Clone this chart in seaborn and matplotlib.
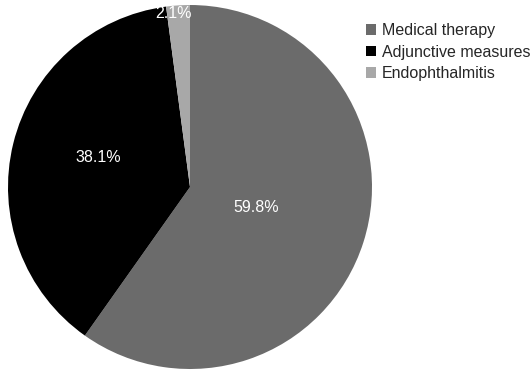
import matplotlib
matplotlib.use("Agg")
import matplotlib.pyplot as plt
import seaborn as sns
import numpy as np

categories = ["Medical therapy", "Adjunctive measures", "Endophthalmitis"]
values = [59.8, 38.1, 2.1]
colors = ["#6b6b6b", "#000000", "#a8a8a8"]
label_dist = [0.38, 0.53, 0.96]
label_angle_shift = [0.0, -4.0, 1.5]

sns.set_theme(style="white")
plt.rcParams["font.family"] = ["Liberation Sans", "DejaVu Sans"]

fig = plt.figure(figsize=(5.30, 3.72), dpi=100)
ax = fig.add_axes([8/530, 3/372, 364/530, 364/372])
wedges, _ = ax.pie(values, colors=colors, startangle=90, counterclock=False,
                   radius=1.0, wedgeprops=dict(linewidth=0))
for w, v, d, s in zip(wedges, values, label_dist, label_angle_shift):
    ang = np.deg2rad((w.theta1 + w.theta2) / 2 + s)
    ax.text(d*np.cos(ang), d*np.sin(ang), f"{v:.1f}%", color="white",
            ha="center", va="center", fontsize=11.5)
ax.set_xlim(-1, 1)
ax.set_ylim(-1, 1)
ax.set_aspect("equal")
ax.axis("off")

fig.legend(wedges, categories, loc="upper left", bbox_to_anchor=(366/530, 1 - 23/372),
           frameon=False, fontsize=11.5, handlelength=0.65, handleheight=0.65,
           handletextpad=0.35, labelspacing=0.42, borderaxespad=0, borderpad=0)
fig.savefig("out.png", dpi=100)
